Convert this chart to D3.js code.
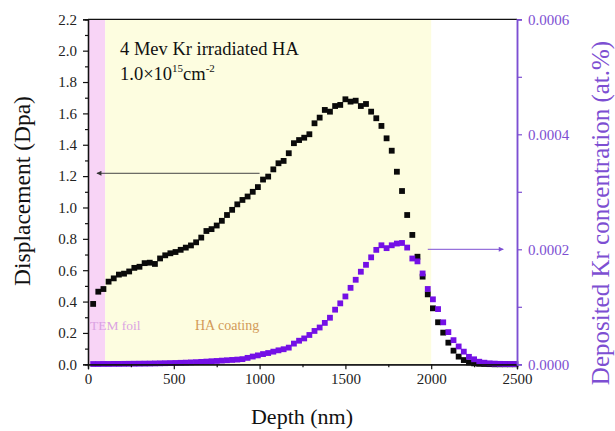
<!DOCTYPE html>
<html><head><meta charset="utf-8">
<script src="https://cdn.jsdelivr.net/npm/d3@7"></script>
<style>body{margin:0;background:#fff}svg{display:block}svg text{font-family:'Liberation Serif','DejaVu Serif',serif !important}</style>
</head><body><svg id="c" width="615" height="431"></svg>
<script>
const depth = [30,60,90,120,150,180,210,240,270,300,330,360,390,420,450,480,510,540,570,600,630,660,690,720,750,780,810,840,870,900,930,960,990,1020,1050,1080,1110,1140,1170,1200,1230,1260,1290,1320,1350,1380,1410,1440,1470,1500,1530,1560,1590,1620,1650,1680,1710,1740,1770,1800,1830,1860,1890,1920,1950,1980,2010,2040,2070,2100,2130,2160,2190,2220,2250,2280,2310,2340,2370,2400,2430,2460,2490];
const displacement = [0.385,0.463,0.48,0.527,0.548,0.572,0.578,0.592,0.615,0.622,0.645,0.648,0.640,0.675,0.695,0.708,0.716,0.73,0.744,0.758,0.778,0.808,0.85,0.862,0.885,0.915,0.952,0.985,1.02,1.048,1.07,1.10,1.13,1.178,1.197,1.243,1.282,1.297,1.346,1.41,1.43,1.445,1.467,1.537,1.573,1.622,1.611,1.647,1.654,1.69,1.675,1.681,1.647,1.66,1.611,1.569,1.52,1.441,1.362,1.228,1.105,0.952,0.825,0.686,0.559,0.446,0.357,0.268,0.202,0.138,0.087,0.049,0.027,0.012,0.006,0.003,0.002,0.001,0,0,0,0,0];
// deposited Kr concentration, in units of 1e-4 at.%
const krConc = [0.005,0.005,0.006,0.006,0.007,0.007,0.008,0.009,0.010,0.011,0.012,0.013,0.015,0.017,0.019,0.021,0.023,0.026,0.029,0.033,0.037,0.042,0.047,0.053,0.058,0.064,0.070,0.076,0.082,0.090,0.112,0.135,0.155,0.178,0.196,0.22,0.243,0.262,0.29,0.36,0.41,0.45,0.51,0.58,0.64,0.72,0.81,0.95,1.06,1.18,1.33,1.47,1.61,1.73,1.86,1.99,2.07,2.02,2.07,2.10,2.11,2.03,1.84,1.79,1.58,1.31,1.13,0.96,0.73,0.56,0.42,0.31,0.22,0.13,0.087,0.045,0.028,0.017,0.012,0.008,0.006,0.005,0.004];
const xTicks = [0,500,1000,1500,2000,2500];
const yLeftTicks = [0,0.2,0.4,0.6,0.8,1.0,1.2,1.4,1.6,1.8,2.0,2.2];
const yRightTicks = [0,0.0002,0.0004,0.0006];
const regions = [{name:"TEM foil", from:0, to:100}, {name:"HA coating", from:100, to:2000}];

const SERIF = "'Liberation Serif','DejaVu Serif',serif";
const svg = d3.select("#c").style("font-family", SERIF);
const L=88, R=517, T=19.3, B=364.3;
const x = d3.scaleLinear().domain([0,2500]).range([L,R]);
const yL = d3.scaleLinear().domain([0,2.2]).range([B,T]);
const yR = d3.scaleLinear().domain([0,0.0006]).range([B,T]);
const purpleAxis = "#7d4fd2", purpleMark = "#7410e6";

// background regions
const regColors = ["#f8d4f6","#fdfde0"];
svg.selectAll("rect.reg").data(regions).enter().append("rect")
  .attr("x", d=>x(d.from)).attr("width", d=>x(d.to)-x(d.from))
  .attr("y", T).attr("height", B-T).attr("fill", (d,i)=>regColors[i]);

// top border
svg.append("line").attr("x1",L).attr("x2",R).attr("y1",T).attr("y2",T).attr("stroke","#111").attr("stroke-width",1.3);

// series
const sq = 5.8;
const kr = depth.map((d,i)=>({x:d, y:krConc[i]*1e-4}));
const dp = depth.map((d,i)=>({x:d, y:displacement[i]}));
svg.append("g").selectAll("rect").data(dp).enter().append("rect")
  .attr("x", d=>x(d.x)-sq/2).attr("y", d=>yL(d.y)-sq/2).attr("width",sq).attr("height",sq).attr("fill","#0a0a0a");
svg.append("g").selectAll("rect").data(kr).enter().append("rect")
  .attr("x", d=>x(d.x)-sq/2).attr("y", d=>yR(d.y)-sq/2).attr("width",sq).attr("height",sq).attr("fill",purpleMark);

// axes
const fmt1 = d3.format(".1f");
const gx = svg.append("g").attr("transform",`translate(0,${B})`)
  .call(d3.axisBottom(x).tickValues(xTicks).tickSize(5).tickPadding(4).tickFormat(d3.format("d")));
const gxm = svg.append("g").attr("transform",`translate(0,${B})`)
  .call(d3.axisBottom(x).tickValues(d3.range(250,2500,500)).tickSize(3).tickFormat(""));
const gy = svg.append("g").attr("transform",`translate(${L},0)`)
  .call(d3.axisLeft(yL).tickValues(yLeftTicks).tickSize(5).tickPadding(6).tickFormat(fmt1));
const gym = svg.append("g").attr("transform",`translate(${L},0)`)
  .call(d3.axisLeft(yL).tickValues(d3.range(0.1,2.2,0.2)).tickSize(3).tickFormat(""));
const gr = svg.append("g").attr("transform",`translate(${R},0)`)
  .call(d3.axisRight(yR).tickValues(yRightTicks).tickSize(5).tickPadding(6).tickFormat(d3.format(".4f")));
const grm = svg.append("g").attr("transform",`translate(${R},0)`)
  .call(d3.axisRight(yR).tickValues([0.0001,0.0003,0.0005]).tickSize(5).tickFormat(""));
[gx,gxm,gy,gym,gr,grm].forEach(g=>g.attr("font-family",SERIF));
[gx,gxm,gy,gym].forEach(g=>{g.select(".domain").attr("stroke","#111").attr("stroke-width",1.3);g.selectAll(".tick line").attr("stroke","#111").attr("stroke-width",1.2);});
[gr,grm].forEach(g=>{g.select(".domain").attr("stroke",purpleAxis).attr("stroke-width",1.5);g.selectAll(".tick line").attr("stroke",purpleAxis).attr("stroke-width",1.2);});
[gx,gy].forEach(g=>g.selectAll(".tick text").attr("font-size",15).attr("fill","#222"));
gr.selectAll(".tick text").attr("font-size",15).attr("fill",purpleAxis);

// axis titles
svg.append("text").attr("transform",`translate(30,191) rotate(-90)`).attr("text-anchor","middle")
  .attr("font-size",23.5).attr("fill","#111").text("Displacement (Dpa)");
svg.append("text").attr("x",302).attr("y",424).attr("text-anchor","middle")
  .attr("font-size",22).attr("fill","#111").text("Depth (nm)");
svg.append("text").attr("transform",`translate(609,213) rotate(-90)`).attr("text-anchor","middle")
  .attr("font-size",25).attr("fill",purpleAxis).text("Deposited Kr concentration (at.%)");

// annotations
svg.append("text").attr("x",120).attr("y",55).attr("font-size",18.5).attr("fill","#111").text("4 Mev Kr irradiated HA");
const t2 = svg.append("text").attr("x",120).attr("y",80).attr("font-size",18.5).attr("fill","#111");
t2.append("tspan").text("1.0×10");
t2.append("tspan").attr("font-size",11).attr("dy",-8).text("15");
t2.append("tspan").attr("dy",8).text("cm");
t2.append("tspan").attr("font-size",11).attr("dy",-8).text("-2");
svg.append("text").attr("x",90).attr("y",330).attr("font-size",13.5).attr("fill","#dba3e3").text(regions[0].name);
svg.append("text").attr("x",195).attr("y",330).attr("font-size",14).attr("fill","#d29a58").text(regions[1].name);

// arrows
const defs = svg.append("defs");
function marker(id,color){
  defs.append("marker").attr("id",id).attr("viewBox","0 0 10 10").attr("refX",9).attr("refY",5)
    .attr("markerWidth",7).attr("markerHeight",5).attr("markerUnits","userSpaceOnUse").attr("orient","auto")
    .append("path").attr("d","M0,0L10,5L0,10z").attr("fill",color);
}
marker("ah1","#333"); marker("ah2",purpleAxis);
svg.append("line").attr("x1",x(1000)).attr("x2",x(52)).attr("y1",yL(1.218)).attr("y2",yL(1.218))
  .attr("stroke","#444").attr("stroke-width",1).attr("marker-end","url(#ah1)");
svg.append("line").attr("x1",x(1980)).attr("x2",x(2420)).attr("y1",yR(0.0002)).attr("y2",yR(0.0002))
  .attr("stroke",purpleAxis).attr("stroke-width",1).attr("marker-end","url(#ah2)");
</script></body></html>
